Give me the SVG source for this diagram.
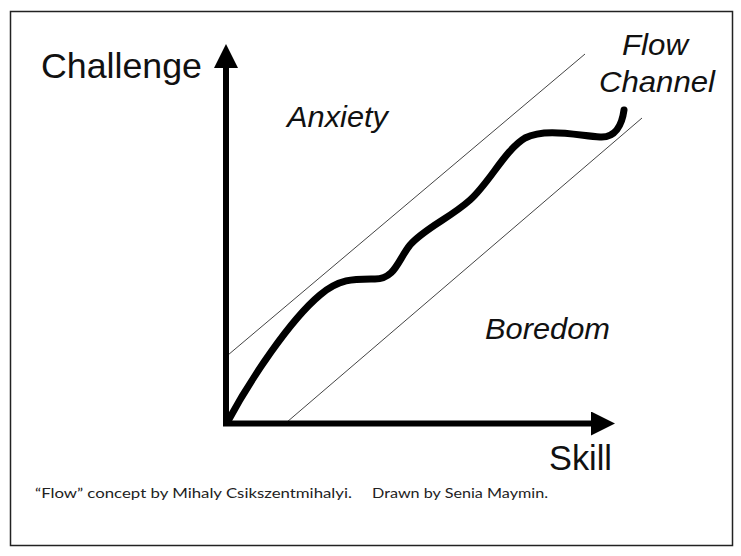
<svg xmlns="http://www.w3.org/2000/svg" width="741" height="556" viewBox="0 0 741 556">
<style>
.lbl{font-family:"Liberation Sans",Arial,sans-serif;fill:#111}
.it{font-style:italic}
.foot{font-family:Lato,"Open Sans",sans-serif;fill:#222}
.thin{stroke:#444;stroke-width:1;fill:none}
.axis{stroke:#000;stroke-width:6;fill:none}
</style>
<defs>
<marker id="ah" viewBox="0 0 10 10" refX="0" refY="5" markerWidth="4" markerHeight="4" markerUnits="strokeWidth" orient="auto">
<path d="M0,0 L10,5 L0,10 Z" fill="#000"/>
</marker>
</defs>
<rect x="10.5" y="11.5" width="722" height="534" fill="#fff" stroke="#222" stroke-width="1.5"/>
<g id="connectors">
<line class="thin" x1="228" y1="355" x2="585" y2="54"/>
<line class="thin" x1="287" y1="422" x2="642" y2="118"/>
<path id="flow-curve" d="M228,421 C250,380 290,320 320,295 C340,278 355,279 375,279 C395,279 398,260 410,245 C425,228 450,218 470,200 C490,182 505,150 525,138 C545,128 575,135 600,137 C615,138 622,125 624,110" fill="none" stroke="#000" stroke-width="7" stroke-linecap="round"/>
<line id="y-axis" class="axis" x1="226" y1="426" x2="226" y2="68" marker-end="url(#ah)"/>
<line id="x-axis" class="axis" x1="223" y1="423.5" x2="591" y2="423.5" marker-end="url(#ah)"/>
</g>
<g id="challenge"><text class="lbl" x="41" y="78" font-size="35" textLength="161" lengthAdjust="spacingAndGlyphs">Challenge</text></g>
<g id="skill"><text class="lbl" x="549" y="470" font-size="35" textLength="63" lengthAdjust="spacingAndGlyphs">Skill</text></g>
<g id="anxiety"><text class="lbl it" x="287" y="127" font-size="29" textLength="101" lengthAdjust="spacingAndGlyphs">Anxiety</text></g>
<g id="boredom"><text class="lbl it" x="485" y="339" font-size="30" textLength="125" lengthAdjust="spacingAndGlyphs">Boredom</text></g>
<g id="flow-channel">
<text class="lbl it" x="622" y="55" font-size="29" textLength="66" lengthAdjust="spacingAndGlyphs">Flow</text>
<text class="lbl it" x="599" y="92" font-size="29" textLength="116" lengthAdjust="spacingAndGlyphs">Channel</text>
</g>
<g id="credit">
<text class="foot" x="35" y="498" font-size="14" textLength="317" lengthAdjust="spacingAndGlyphs">“Flow” concept by Mihaly Csikszentmihalyi.</text>
<text class="foot" x="372" y="498" font-size="14" textLength="176" lengthAdjust="spacingAndGlyphs">Drawn by Senia Maymin.</text>
</g>
</svg>
